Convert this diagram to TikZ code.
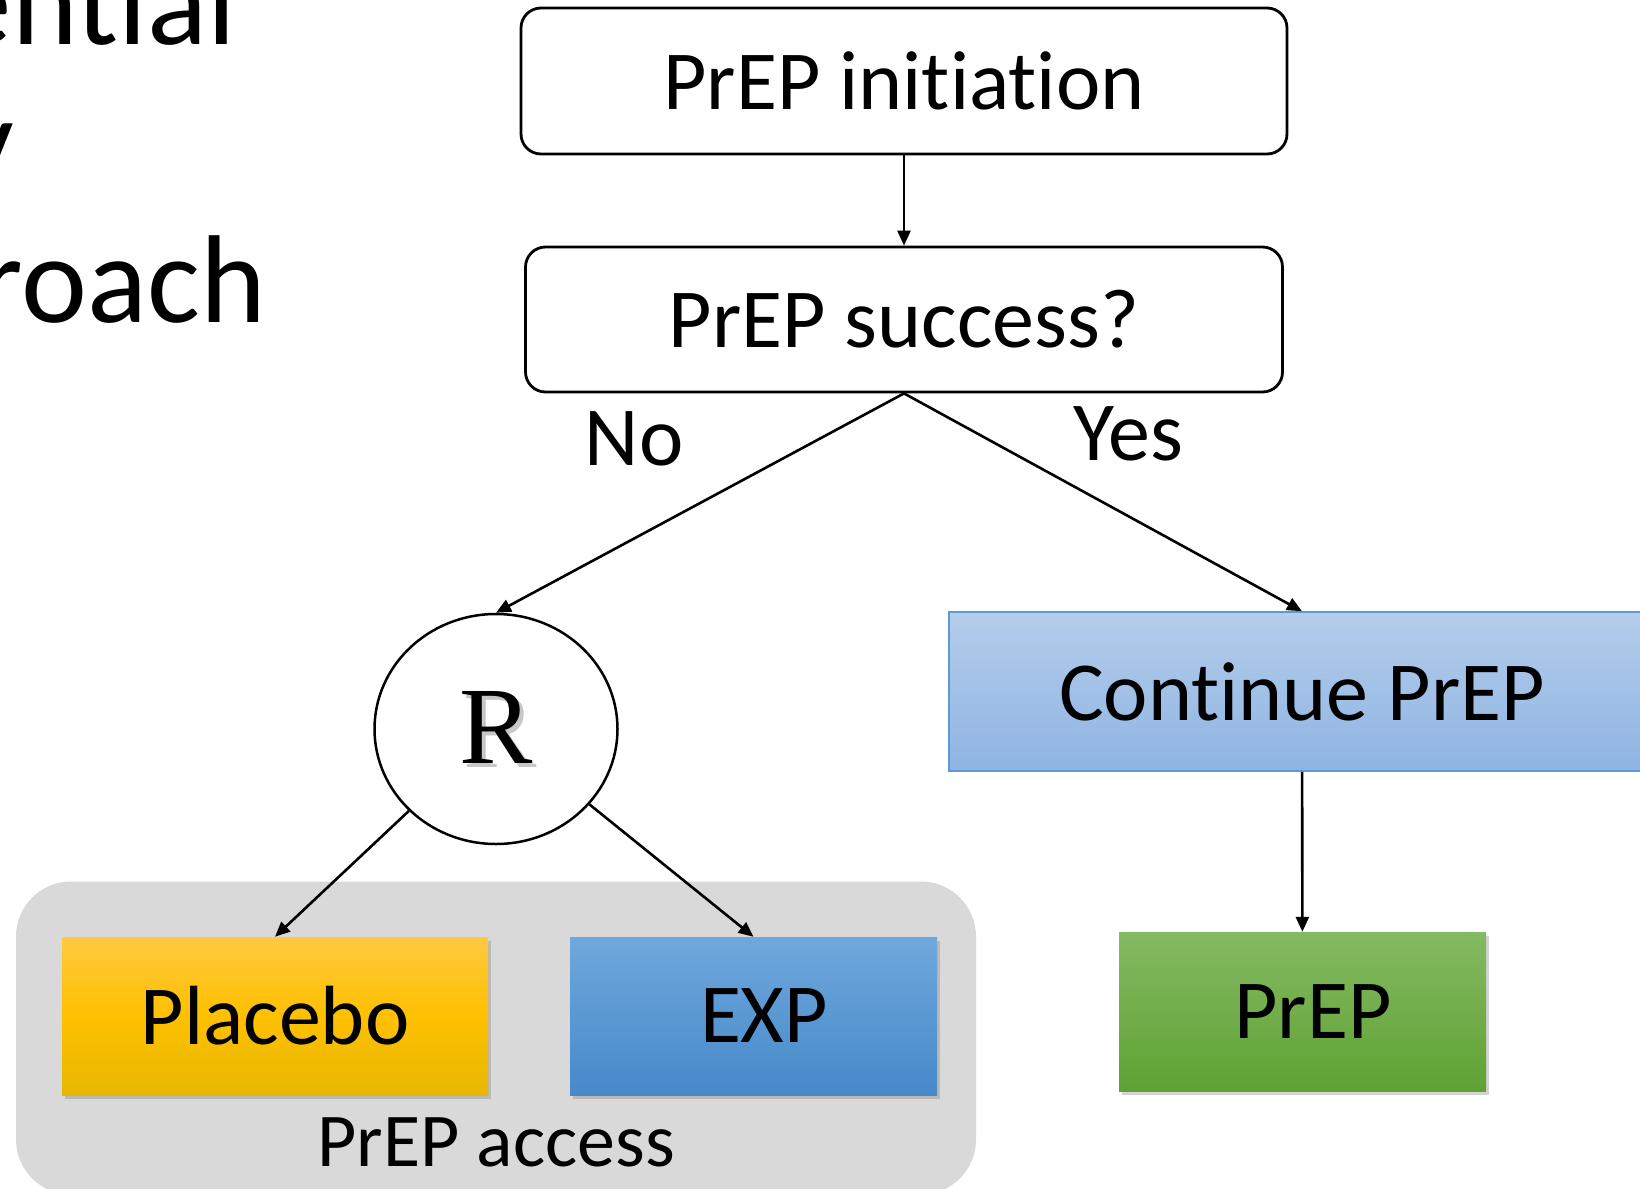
\documentclass[tikz,border=0pt]{standalone}
\usepackage{fontspec}
\setmainfont{Carlito}[Ligatures=NoCommon]
\newfontfamily\serifR{Liberation Serif}
\usetikzlibrary{arrows.meta,shapes.geometric,shadows}

\definecolor{panelgrey}{HTML}{D9D9D9}
\definecolor{contTop}{HTML}{B4CDEA}
\definecolor{contBot}{HTML}{8EB4E3}
\definecolor{contLine}{HTML}{5B9BD5}
\definecolor{prepTop}{HTML}{84BA62}
\definecolor{prepBot}{HTML}{5FA234}
\definecolor{placTop}{HTML}{FFC941}
\definecolor{placMid}{HTML}{FFC000}
\definecolor{placBot}{HTML}{E6B800}
\definecolor{expTop}{HTML}{6FA8DC}
\definecolor{expBot}{HTML}{4689CA}

\newcommand{\shadowR}{%
  \makebox[0pt][l]{\hspace{4pt}\raisebox{-4pt}{\textcolor{black!22}{R}}}R%
}
% keeps t and i apart (no "ti" ligature)
\newcommand{\nolig}{\kern0pt}

\begin{document}
\begin{tikzpicture}[
      x=1pt, y=-1pt,
      every node/.style={inner sep=0pt,font=\fontsize{84}{100}\selectfont},
      title/.style={font=\fontsize{125}{150}\selectfont},
      decision/.style={draw,line width=2.8pt,rounded corners=20pt,fill=white,
        minimum width=760,minimum height=145},
      arm/.style={minimum width=367,minimum height=158,
        drop shadow={shadow xshift=3pt,shadow yshift=-4pt,opacity=0.35}},
      panel/.style={fill=panelgrey,rounded corners=55pt},
      conn/.style={line width=2.6pt,-{Triangle[length=15pt,width=13pt]}}
    ]
      \useasboundingbox (0,0) rectangle (1640,1188);

      % Slide title, cut off at the left edge
      \node[title,anchor=base east] (title1) at (236,45) {ent\nolig ial};
      \node[title,anchor=base east] (title2) at (14,183) {y};
      \node[title,anchor=base east] (title3) at (266,322) {roach};

      % Background panel for the randomised arms
      \node[panel,minimum width=960,minimum height=313] (access) at (496,1038) {};
      \node[anchor=base,font=\fontsize{76}{90}\selectfont] (accesslabel) at (496,1166) {PrEP access};

      % Draw the nodes, top to bottom
      \node[decision,minimum width=766,minimum height=146] (init) at (904,81) {PrEP init\nolig iat\nolig ion};
      \node[decision,minimum width=757] (success) at (904,319.5) {PrEP success?};
      \node[ellipse,draw,line width=2.5pt,fill=white,minimum width=243,minimum height=230]
        (rnd) at (496,729) {\serifR\fontsize{110}{120}\selectfont\shadowR};
      \node[draw=contLine,line width=1.5pt,top color=contTop,bottom color=contBot,
        minimum width=706,minimum height=159] (cont) at (1302,691.5) {Cont\nolig inue PrEP};
      \node[arm,minimum width=426,top color=placTop,bottom color=placBot,middle color=placMid]
        (placebo) at (275,1016) {Placebo};
      \node[arm,top color=expTop,bottom color=expBot] (exp) at (753.5,1016) {\hspace*{21pt}EXP};
      \node[arm,minimum height=159,top color=prepTop,bottom color=prepBot]
        (prep) at (1302.5,1011.5) {\hspace*{21pt}PrEP};

      \node[anchor=base] (no) at (634,465) {No};
      \node[anchor=base] (yes) at (1128,460) {Yes};

      % Connectors
      \draw[conn] (init) -- (success);
      \draw[conn] (success.south) -- (rnd.north);
      \draw[conn] (success.south) -- (cont.north);
      \draw[conn] (rnd) -- (placebo.north);
      \draw[conn] (rnd) -- (exp.north);
      \draw[conn] (cont) -- (prep);
    \end{tikzpicture}
\end{document}
